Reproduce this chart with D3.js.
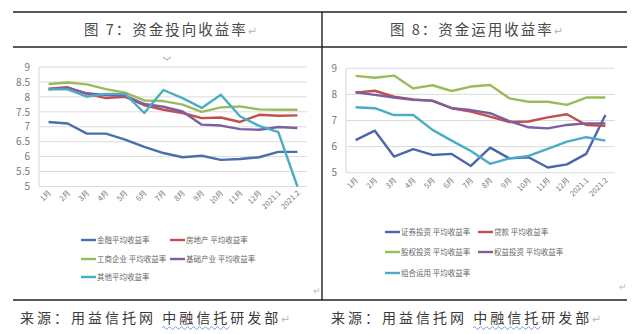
<!DOCTYPE html>
<html><head><meta charset="utf-8">
<script src="https://cdn.jsdelivr.net/npm/d3@7"></script>
<style>
html,body{margin:0;padding:0;background:#fff;}
text{font-family:"Noto Sans CJK SC","Noto Sans",sans-serif;}
</style></head>
<body><svg id="c" width="640" height="334"></svg>
<script>
// ---- data ----
const categories = ["1月","2月","3月","4月","5月","6月","7月","8月","9月","10月","11月","12月","2021.1","2021.2"];

// Chart 7: 资金投向收益率
const leftTicks = [5,5.5,6,6.5,7,7.5,8,8.5,9];
const finance     = [7.16,7.11,6.77,6.77,6.57,6.33,6.12,5.98,6.03,5.89,5.92,5.98,6.16,6.16];
const realEstate  = [8.27,8.32,8.10,7.96,8.00,7.72,7.57,7.46,7.29,7.31,7.16,7.40,7.37,7.38];
const industry    = [8.43,8.48,8.42,8.26,8.14,7.88,7.86,7.74,7.50,7.65,7.68,7.58,7.57,7.57];
const infra       = [8.25,8.30,8.12,8.06,8.04,7.76,7.67,7.51,7.07,7.04,6.92,6.90,6.99,6.96];
const otherL      = [8.25,8.25,8.01,8.10,8.10,7.46,8.23,7.96,7.63,8.07,7.35,7.03,6.82,5.00];

// Chart 8: 资金运用收益率
const rightTicks = [5,6,7,8,9];
const securities  = [6.25,6.61,5.62,5.90,5.68,5.72,5.26,5.96,5.55,5.59,5.20,5.32,5.72,7.21];
const loans       = [8.07,8.14,7.91,7.81,7.76,7.47,7.34,7.15,6.94,6.96,7.12,7.24,6.83,6.80];
const equityInv   = [8.71,8.64,8.72,8.23,8.35,8.13,8.30,8.36,7.85,7.72,7.72,7.60,7.88,7.88];
const rightsInv   = [8.08,7.98,7.88,7.79,7.75,7.47,7.40,7.28,6.98,6.74,6.70,6.83,6.89,6.89];
const portfolio   = [7.51,7.47,7.21,7.21,6.64,6.23,5.83,5.34,5.55,5.64,5.91,6.19,6.36,6.23];

const leftSeries = [
  {name:"金融平均收益率", values:finance, color:"#4a70a8"},
  {name:"房地产 平均收益率", values:realEstate, color:"#c0504d"},
  {name:"工商企业 平均收益率", values:industry, color:"#9bbb59"},
  {name:"基础产业 平均收益率", values:infra, color:"#7b5fa0"},
  {name:"其他平均收益率", values:otherL, color:"#4bacc6"}
];
const rightSeries = [
  {name:"证券投资 平均收益率", values:securities, color:"#4a66ac"},
  {name:"贷款 平均收益率", values:loans, color:"#c0504d"},
  {name:"股权投资 平均收益率", values:equityInv, color:"#9bbb59"},
  {name:"权益投资 平均收益率", values:rightsInv, color:"#7b5fa0"},
  {name:"组合运用 平均收益率", values:portfolio, color:"#4bacc6"}
];

const svg = d3.select("#c");
svg.append("rect").attr("width",640).attr("height",334).attr("fill","#fff");

// frame lines
const frame = svg.append("g").attr("stroke","#222").attr("stroke-width",1.4);
frame.append("line").attr("x1",13).attr("x2",627).attr("y1",12).attr("y2",12);
frame.append("line").attr("x1",13).attr("x2",627).attr("y1",47).attr("y2",47);
frame.append("line").attr("x1",13).attr("x2",627).attr("y1",300).attr("y2",300);
frame.append("line").attr("x1",322).attr("x2",322).attr("y1",12).attr("y2",300);

// titles
function title(x, main){
  const t = svg.append("text").attr("x",x).attr("y",35).attr("font-size",14.5)
    .attr("letter-spacing",2).attr("fill","#4a4a4a");
  t.append("tspan").text(main);
  t.append("tspan").attr("fill","#bbb").attr("font-size",11).text("↵");
}
title(84,"图 7：资金投向收益率");
title(390,"图 8：资金运用收益率");

// sources
function source(x){
  const t = svg.append("text").attr("x",x).attr("y",323).attr("font-size",14)
    .attr("letter-spacing",3).attr("fill","#3a3a3a");
  t.append("tspan").text("来源：用益信托网 中融信托研发部");
  t.append("tspan").attr("fill","#bbb").attr("font-size",11).text("↵");
  const n = t.node();
  const s = n.getStartPositionOfChar(9).x, e = n.getEndPositionOfChar(12).x;
  let d = "M"+s+",328";
  for(let xx=s; xx<e; xx+=3){ d += " L"+(xx+1.5)+","+(Math.round(xx-s)%6<3?326.5:329.5); }
  svg.append("path").attr("d",d).attr("fill","none").attr("stroke","#5b7fd6").attr("stroke-width",0.8);
}
source(20);
source(331);

function chart(cfg){
  const g = svg.append("g");
  const x = d3.scalePoint().domain(categories).range([cfg.x0,cfg.x1]).padding(0.5);
  const y = d3.scaleLinear().domain([5,9]).range([cfg.yb,cfg.yt]);
  // grid
  g.append("g").selectAll("line").data(cfg.ticks).join("line")
    .attr("x1",cfg.x0).attr("x2",cfg.x1).attr("y1",d=>y(d)).attr("y2",d=>y(d))
    .attr("stroke","#dcdcdc").attr("stroke-width",1);
  g.append("line").attr("x1",cfg.x0).attr("x2",cfg.x0).attr("y1",cfg.yt).attr("y2",cfg.yb)
    .attr("stroke","#d0d8e4");
  // y axis labels
  const ya = g.append("g").attr("transform",`translate(${cfg.x0-6},0)`)
    .call(d3.axisLeft(y).tickValues(cfg.ticks).tickSize(0).tickFormat(d3.format("~g")));
  ya.select(".domain").remove();
  ya.selectAll("text").attr("font-size",10).attr("fill","#777").attr("font-family","'Open Sans',sans-serif");
  // x labels
  g.append("g").selectAll("text").data(categories).join("text")
    .attr("transform",d=>`translate(${x(d)+3},${cfg.yb+cfg.lab}) rotate(-45)`)
    .attr("text-anchor","end").attr("font-size",7.5).attr("fill","#777").text(d=>d);
  // lines
  const line = d3.line().x((d,i)=>x(categories[i])).y(d=>y(d));
  g.append("g").selectAll("path").data(cfg.series).join("path")
    .attr("d",d=>line(d.values)).attr("fill","none").attr("stroke",d=>d.color)
    .attr("stroke-width",2.4).attr("stroke-linejoin","round");
  // legend
  const lg = g.append("g");
  cfg.series.forEach((s,i)=>{
    const col = i%2, row = Math.floor(i/2);
    const lx = cfg.legX[col], ly = cfg.legY[row];
    lg.append("line").attr("x1",lx).attr("x2",lx+15).attr("y1",ly).attr("y2",ly)
      .attr("stroke",s.color).attr("stroke-width",2.4);
    lg.append("text").attr("x",lx+16).attr("y",ly+2.7).attr("font-size",7.5)
      .attr("fill","#666").text(s.name);
  });
}

chart({x0:39,x1:307,yt:67,yb:186.5,ticks:leftTicks,series:leftSeries,lab:7,
  legX:[81,170],legY:[240,259,277]});
chart({x0:346,x1:615,yt:68.3,yb:172.7,ticks:rightTicks,series:rightSeries,lab:8,
  legX:[385,478],legY:[232,252,273]});

// small decorations
svg.append("path").attr("d","M163,57 L167,60 L171,57").attr("fill","none").attr("stroke","#999").attr("stroke-width",1);
svg.append("text").attr("x",313).attr("y",294).attr("font-size",9).attr("fill","#bbb").text("↵");
svg.append("text").attr("x",619).attr("y",290).attr("font-size",9).attr("fill","#bbb").text("↵");
</script></body></html>
